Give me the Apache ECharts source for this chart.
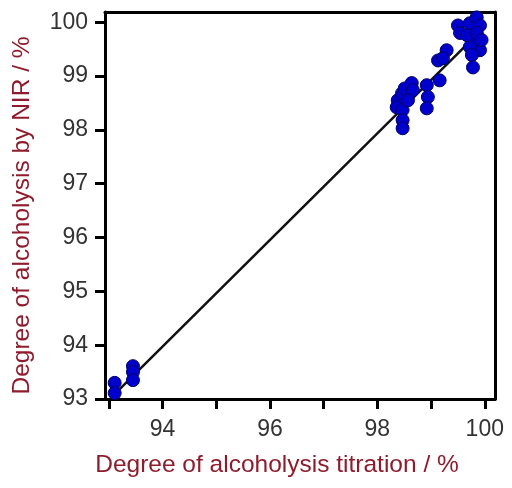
<!DOCTYPE html>
<html>
<head>
<meta charset="utf-8">
<script src="https://cdn.jsdelivr.net/npm/echarts@6/dist/echarts.min.js"></script>
<style>
  html, body { margin: 0; padding: 0; background: #fff; }
  #chart { width: 512px; height: 488px; }
</style>
</head>
<body>
<div id="chart"></div>
<script>
// titration value (x) and NIR prediction (y) for each sample
const titrationX = [
  93.11, 93.11, 93.45, 93.45, 93.45,
  98.38, 98.46, 98.51, 98.64, 98.36, 98.47, 98.47, 98.47, 98.66, 98.57,
  98.92, 98.94, 98.92, 99.16, 99.13, 99.29, 99.22,
  99.50, 99.54, 99.72, 99.85, 99.91, 99.87, 99.91, 99.72, 99.76, 99.78, 99.67, 99.85, 99.94
]
const nirY = [
  93.30, 93.11, 93.61, 93.50, 93.35,
  98.55, 98.68, 98.77, 98.87, 98.42, 98.37, 98.18, 98.03, 98.74, 98.55,
  98.83, 98.61, 98.40, 98.92, 99.29, 99.48, 99.33,
  99.94, 99.80, 99.98, 100.09, 99.94, 99.63, 99.48, 99.54, 99.39, 99.16, 99.76, 99.80, 99.67
]

// regression line end points
const fitX = [93.1, 99.8]
const fitY = [93.08, 99.72]

// tick marks and labels
const xTicks = [93, 94, 95, 96, 97, 98, 99, 100]
const xLabels = [94, 96, 98, 100]
const yTicks = [93, 94, 95, 96, 97, 98, 99, 100]

const chart = echarts.init(document.getElementById('chart'))

const labelStyle = { color: '#333', fontSize: 23, fontFamily: 'Liberation Sans, Arial, sans-serif' }
const nameStyle = { color: '#8e1c2c', fontSize: 24.5, fontFamily: 'Liberation Sans, Arial, sans-serif' }

chart.setOption({
  animation: false,
  grid: { left: 105, right: 17, top: 12, bottom: 89 },
  xAxis: [{
    type: 'value',
    min: 92.93,
    max: 100.19,
    name: 'Degree of alcoholysis titration / %',
    nameLocation: 'middle',
    nameGap: 54,
    nameTextStyle: Object.assign({ padding: [0, 46, 0, 0] }, nameStyle),
    axisLine: { show: true, lineStyle: { color: '#000', width: 3 } },
    axisTick: { show: true, customValues: xTicks, length: 10, lineStyle: { color: '#000', width: 3 } },
    axisLabel: Object.assign({ customValues: xLabels, margin: 19 }, labelStyle),
    splitLine: { show: false }
  }, {
    type: 'value',
    position: 'top',
    min: 92.93,
    max: 100.19,
    axisLine: { show: true, lineStyle: { color: '#000', width: 3 } },
    axisTick: { show: false },
    axisLabel: { show: false },
    splitLine: { show: false }
  }],
  yAxis: [{
    type: 'value',
    min: 93,
    max: 100.19,
    name: 'Degree of alcoholysis by NIR / %',
    nameLocation: 'middle',
    nameGap: 70,
    nameTextStyle: Object.assign({ padding: [0, 20, 0, 0] }, nameStyle),
    axisLine: { show: true, lineStyle: { color: '#000', width: 3 } },
    axisTick: { show: true, customValues: yTicks, length: 10, lineStyle: { color: '#000', width: 3 } },
    axisLabel: Object.assign({ customValues: yTicks, margin: 17 }, labelStyle),
    splitLine: { show: false }
  }, {
    type: 'value',
    position: 'right',
    min: 93,
    max: 100.19,
    axisLine: { show: true, lineStyle: { color: '#000', width: 3 } },
    axisTick: { show: false },
    axisLabel: { show: false },
    splitLine: { show: false }
  }],
  series: [{
    type: 'line',
    data: fitX.map((x, i) => [x, fitY[i]]),
    symbol: 'none',
    lineStyle: { color: '#111', width: 2.5 },
    z: 2
  }, {
    type: 'scatter',
    data: titrationX.map((x, i) => [x, nirY[i]]),
    symbolSize: 13,
    itemStyle: { color: '#0000cc', borderColor: '#000066', borderWidth: 1, opacity: 1 },
    z: 3
  }]
})
</script>
</body>
</html>
